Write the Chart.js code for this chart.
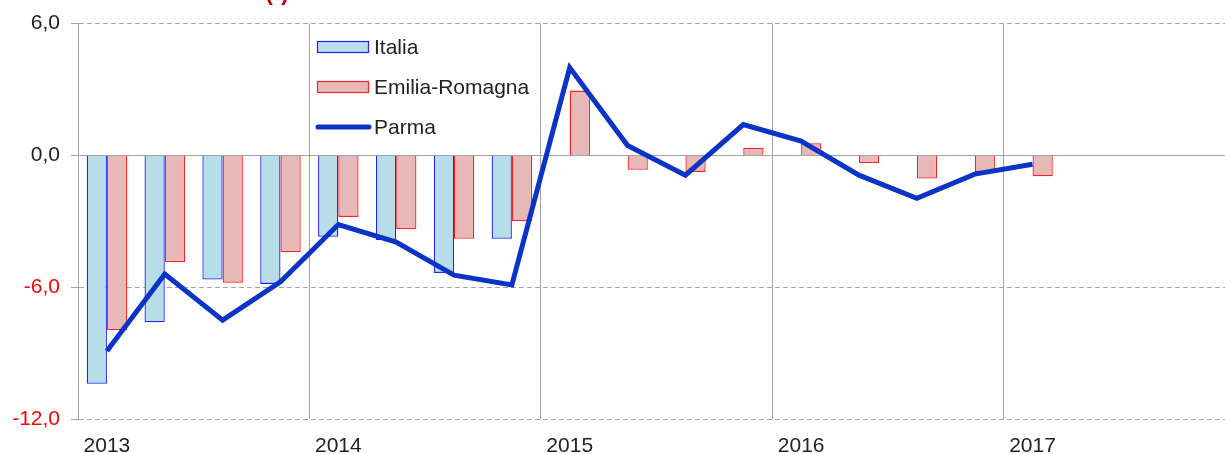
<!DOCTYPE html>
<html>
<head>
<meta charset="utf-8">
<script src="https://cdn.jsdelivr.net/npm/chart.js@4.4.1/dist/chart.umd.min.js"></script>
<style>
  html, body { margin: 0; padding: 0; background: #fff; overflow: hidden; }
  #wrap { width: 1240px; height: 454px; }
</style>
</head>
<body>
<div id="wrap"><canvas id="chart" width="1240" height="454"></canvas></div>
<script>
// quarters 2013 Q1 .. 2017 Q4
const years = ["2013", "2014", "2015", "2016", "2017"];
const quarters = ["I", "II", "III", "IV"];
const categories = [];
years.forEach(y => quarters.forEach(q => categories.push(y + " " + q)));

const italia = [-10.4, -7.6, -5.65, -5.85, -3.7, -3.85, -5.35, -3.8,
  null, null, null, null, null, null, null, null, null, null, null, null];
const emiliaRomagna = [-7.95, -4.85, -5.8, -4.4, -2.8, -3.35, -3.8, -3.0,
  2.95, -0.65, -0.75, 0.35, 0.55, -0.35, -1.05, -0.75, -0.95, null, null, null];
const parma = [-8.9, -5.4, -7.5, -5.75, -3.15, -3.95, -5.45, -5.9,
  4.0, 0.45, -0.9, 1.4, 0.65, -0.9, -1.95, -0.85, -0.4, null, null, null];

const yTicks = [-12, -6, 0, 6];

const gridGray = "#a3a3a3";
const fmt = v => v.toFixed(1).replace(".", ",");

// legend drawn inside the plot, top left of 2014
const legendPlugin = {
  id: "insideLegend",
  afterDraw(chart) {
    const ctx = chart.ctx;
    const items = [
      { label: "Italia", type: "box", fill: "#b7dde8", stroke: "#2222ff" },
      { label: "Emilia-Romagna", type: "box", fill: "#e6b9b8", stroke: "#ff2020" },
      { label: "Parma", type: "line", stroke: "#0a33c8" }
    ];
    const x0 = 317, y0 = 47, step = 40;
    ctx.save();
    ctx.font = "21px 'Liberation Sans', Arial, sans-serif";
    ctx.textBaseline = "middle";
    items.forEach((it, i) => {
      const cy = y0 + i * step;
      if (it.type === "box") {
        ctx.fillStyle = it.fill;
        ctx.fillRect(x0, cy - 5.5, 51, 11);
        ctx.strokeStyle = it.stroke;
        ctx.lineWidth = 1.2;
        ctx.strokeRect(x0 + 0.5, cy - 5.5, 51, 11);
      } else {
        ctx.strokeStyle = it.stroke;
        ctx.lineWidth = 5;
        ctx.lineCap = "round";
        ctx.beginPath();
        ctx.moveTo(x0 + 1, cy);
        ctx.lineTo(x0 + 52, cy);
        ctx.stroke();
      }
      ctx.fillStyle = "#222";
      ctx.fillText(it.label, x0 + 57, cy + 1);
    });
    // cut-off title at the very top
    ctx.fillStyle = "#c00000";
    ctx.font = "bold 22px 'Liberation Sans', Arial, sans-serif";
    ctx.textAlign = "center";
    ctx.textBaseline = "alphabetic";
    ctx.fillText("(*)", 277, 0);
    ctx.restore();
  }
};

new Chart(document.getElementById("chart"), {
  type: "bar",
  data: {
    labels: categories,
    datasets: [
      {
        type: "line",
        label: "Parma",
        data: parma,
        borderColor: "#0a33c8",
        borderWidth: 5,
        pointRadius: 0,
        tension: 0,
        fill: false,
        order: 0
      },
      {
        label: "Italia",
        data: italia,
        backgroundColor: "#b7dde8",
        borderColor: "#2222ff",
        borderWidth: 1.3,
        order: 1
      },
      {
        label: "Emilia-Romagna",
        data: emiliaRomagna,
        backgroundColor: "#e6b9b8",
        borderColor: "#ff2020",
        borderWidth: 1.3,
        order: 1
      }
    ]
  },
  options: {
    responsive: false,
    animation: false,
    layout: { padding: { top: 23, right: 5, left: 0, bottom: 0 } },
    datasets: {
      bar: { categoryPercentage: 0.7, barPercentage: 1.0 }
    },
    plugins: {
      legend: { display: false },
      tooltip: { enabled: false },
      title: { display: false }
    },
    scales: {
      x: {
        afterFit: s => { s.height = 35; },
        grid: {
          offset: true,
          drawTicks: false,
          color: ctx => (ctx.index % 4 === 0 && ctx.index > 0) ? gridGray : "rgba(0,0,0,0)",
          lineWidth: 1
        },
        border: { display: false },
        ticks: {
          autoSkip: false,
          maxRotation: 0,
          padding: 15,
          color: "#222",
          font: { family: "'Liberation Sans', Arial, sans-serif", size: 21 },
          callback: (v, i) => i % 4 === 0 ? years[i / 4] : ""
        }
      },
      y: {
        min: yTicks[0],
        max: yTicks[yTicks.length - 1],
        afterFit: s => { s.width = 78; },
        afterBuildTicks: s => { s.ticks = yTicks.map(v => ({ value: v })); },
        grid: {
          color: gridGray,
          lineWidth: 1,
          tickLength: 7
        },
        border: {
          display: true,
          color: gridGray,
          width: 1,
          dash: ctx => (ctx.tick && ctx.tick.value === 0) ? [] : [5, 3]
        },
        ticks: {
          padding: 11,
          color: ctx => ctx.tick && ctx.tick.value < 0 ? "#ff0000" : "#222",
          font: { family: "'Liberation Sans', Arial, sans-serif", size: 21 },
          callback: v => fmt(v)
        }
      }
    }
  },
  plugins: [legendPlugin]
});
</script>
</body>
</html>
